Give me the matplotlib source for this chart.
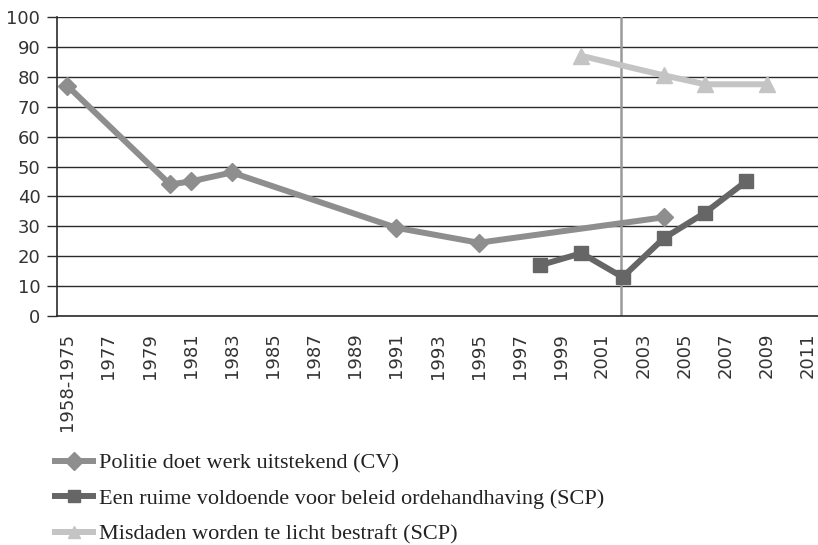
import matplotlib
matplotlib.use("Agg")
import matplotlib.pyplot as plt

# ---- data ----
categories = ['1958-1975'] + [str(y) for y in range(1976, 2012)]
label_every = 2

cv_label = 'Politie doet werk uitstekend (CV)'
cv_years = ['1958-1975', '1980', '1981', '1983', '1991', '1995', '2004']
cv_values = [77, 44, 45, 48, 29.5, 24.5, 33]

orde_label = 'Een ruime voldoende voor beleid ordehandhaving (SCP)'
orde_years = ['1998', '2000', '2002', '2004', '2006', '2008']
orde_values = [17, 21, 13, 26, 34.5, 45]

misd_label = 'Misdaden worden te licht bestraft (SCP)'
misd_years = ['2000', '2004', '2006', '2009']
misd_values = [87, 80.5, 77.5, 77.5]

vline_year = '2002'
y_ticks = list(range(0, 101, 10))

# ---- figure ----
fig = plt.figure(figsize=(8.18, 5.45), dpi=100)
ax = fig.add_axes([57/818, (545-316)/545, 1 - 57/818, (316-17)/545])

idx = {c: i for i, c in enumerate(categories)}

def pos(years):
    return [idx[y] for y in years]

c_cv = '#8e8e8e'
c_orde = '#666666'
c_misd = '#c4c4c4'

ax.axvline(idx[vline_year] - 0.1, color='#9a9a9a', lw=1.8, zorder=1)

l1, = ax.plot(pos(cv_years), cv_values, color=c_cv, lw=4.3, marker='D',
              ms=9, zorder=3, solid_capstyle='butt')
l2, = ax.plot(pos(orde_years), orde_values, color=c_orde, lw=4.3, marker='s',
              ms=10, zorder=4, solid_capstyle='butt')
l3, = ax.plot(pos(misd_years), misd_values, color=c_misd, lw=4.3, marker='^',
              ms=11, zorder=3, solid_capstyle='butt')

ax.set_xlim(-0.5, len(categories) - 0.5)
ax.set_ylim(0, 100)
ax.set_yticks(y_ticks)
ax.yaxis.grid(True, color='#2b2b2b', lw=1.0)
ax.set_axisbelow(True)

tick_pos = list(range(0, len(categories), label_every))
ax.set_xticks(tick_pos)
ax.set_xticklabels([categories[i] for i in tick_pos], rotation=90, va='top', ha='center')

for s in ['top', 'right']:
    ax.spines[s].set_visible(False)
for s in ['left', 'bottom']:
    ax.spines[s].set_color('#2b2b2b')
    ax.spines[s].set_linewidth(1.2)

ax.tick_params(axis='y', length=7, width=1.0, color='#2b2b2b', pad=5,
               labelsize=13, labelcolor='#333333')
ax.tick_params(axis='x', length=0, pad=12, labelsize=13, labelcolor='#333333')

leg = fig.legend(handles=[l1, l2, l3], labels=[cv_label, orde_label, misd_label],
                 loc='upper left', bbox_to_anchor=(52/818, 1 - 453/545),
                 frameon=False, handlelength=2.0, handletextpad=0.12,
                 labelspacing=0.68, borderaxespad=0, borderpad=0,
                 prop={'family': 'Liberation Serif', 'size': 16},
                 labelcolor='#222222')
for h in leg.legend_handles:
    h.set_markersize(9)

fig.savefig('out.png', dpi=100)
